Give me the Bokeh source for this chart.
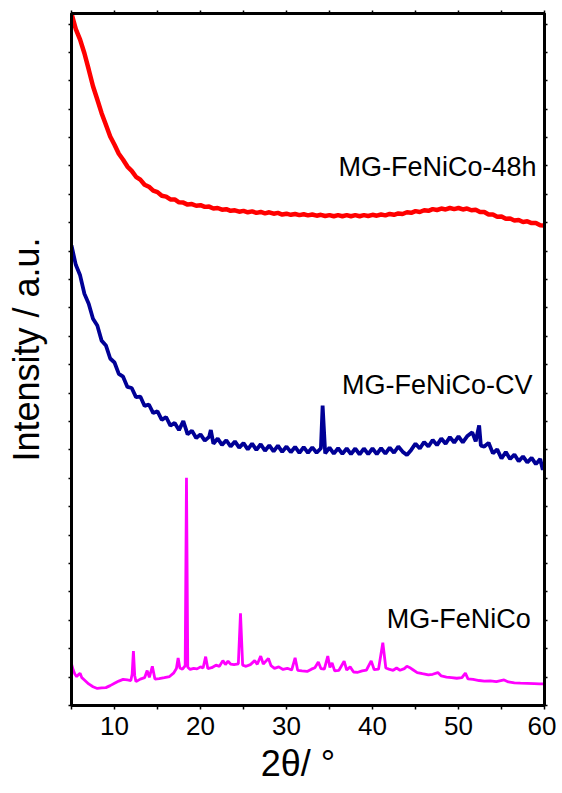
import math
from bokeh.plotting import figure
from bokeh.models import Range1d, LinearAxis, FixedTicker, Label, CustomJSTickFormatter
from bokeh.embed import file_html
from bokeh.resources import INLINE

# ---------------- data ----------------
two_theta_48h = [5.0 + 0.5 * i for i in range(111)]
intensity_48h = [
    24.37, 23.82, 23.45, 22.97, 22.40, 21.81, 21.34, 20.86, 20.45, 20.04,
    19.75, 19.43, 19.22, 18.98, 18.83, 18.62, 18.52, 18.34, 18.27, 18.13,
    18.08, 17.95, 17.92, 17.82, 17.82, 17.72, 17.71, 17.64, 17.66, 17.60,
    17.62, 17.56, 17.57, 17.50, 17.52, 17.46, 17.48, 17.42, 17.44, 17.39,
    17.42, 17.37, 17.40, 17.35, 17.38, 17.33, 17.37, 17.32, 17.35, 17.29,
    17.32, 17.28, 17.31, 17.27, 17.30, 17.26, 17.29, 17.25, 17.28, 17.24,
    17.27, 17.23, 17.27, 17.23, 17.27, 17.23, 17.27, 17.23, 17.27, 17.24,
    17.28, 17.25, 17.29, 17.26, 17.31, 17.28, 17.33, 17.31, 17.37, 17.35,
    17.41, 17.38, 17.44, 17.42, 17.48, 17.45, 17.50, 17.47, 17.52, 17.48,
    17.52, 17.47, 17.50, 17.44, 17.46, 17.38, 17.38, 17.29, 17.29, 17.21,
    17.22, 17.14, 17.15, 17.08, 17.10, 17.03, 17.05, 16.99, 16.99, 16.91,
    16.90,
]

two_theta_cv = [
    5.0, 5.5, 6.0, 6.5, 7.0, 7.5, 8.0, 8.5, 9.0, 9.5,
    10.0, 10.5, 11.0, 11.5, 12.0, 12.5, 13.0, 13.5, 14.0, 14.5,
    15.0, 15.5, 16.0, 16.5, 17.0, 17.5, 18.0, 18.5, 19.0, 19.5,
    20.0, 20.5, 21.0, 21.2, 21.5, 22.0, 22.5, 23.0, 23.5, 24.0,
    24.5, 25.0, 25.5, 26.0, 26.5, 27.0, 27.5, 28.0, 28.5, 29.0,
    29.5, 30.0, 30.5, 31.0, 31.5, 32.0, 32.5, 33.0, 33.5, 34.0,
    34.2, 34.5, 35.0, 35.5, 36.0, 36.5, 37.0, 37.5, 38.0, 38.5,
    39.0, 39.5, 40.0, 40.5, 41.0, 41.5, 42.0, 42.5, 43.0, 43.5,
    44.0, 44.5, 45.0, 45.5, 46.0, 46.5, 47.0, 47.5, 48.0, 48.5,
    49.0, 49.5, 50.0, 50.5, 51.0, 51.6, 52.0, 52.4, 52.6, 53.0,
    53.5, 54.0, 54.5, 55.0, 55.5, 56.0, 56.5, 57.0, 57.5, 58.0,
    58.5, 59.0, 59.5, 59.8, 60.0,
]
intensity_cv = [
    16.20, 15.52, 15.15, 14.50, 14.15, 13.62, 13.38, 12.85, 12.68, 12.22,
    12.08, 11.68, 11.58, 11.22, 11.18, 10.86, 10.88, 10.55, 10.60, 10.30,
    10.36, 10.06, 10.16, 9.86, 9.95, 9.70, 10.02, 9.55, 9.68, 9.42,
    9.55, 9.33, 9.46, 9.70, 9.22, 9.40, 9.18, 9.34, 9.12, 9.30,
    9.08, 9.24, 9.02, 9.22, 9.00, 9.20, 8.97, 9.16, 8.95, 9.15,
    8.93, 9.12, 8.92, 9.11, 8.90, 9.10, 8.90, 9.09, 8.90, 9.06,
    10.56, 8.88, 9.08, 8.87, 9.06, 8.86, 9.05, 8.85, 9.05, 8.84,
    9.05, 8.85, 9.05, 8.85, 9.06, 8.87, 9.08, 8.90, 9.12, 8.94,
    8.82, 9.00, 9.22, 9.05, 9.28, 9.12, 9.35, 9.17, 9.40, 9.22,
    9.45, 9.26, 9.48, 9.27, 9.48, 9.62, 9.30, 9.86, 9.15, 9.12,
    9.25, 8.88, 9.02, 8.70, 8.93, 8.68, 8.84, 8.60, 8.77, 8.56,
    8.72, 8.50, 8.68, 8.30, 8.57,
]

two_theta_pristine = [
    5.0, 5.2, 5.4, 5.6, 5.8, 6.0, 6.2, 6.5, 7.0, 7.5,
    8.0, 8.5, 9.0, 9.5, 10.0, 10.5, 11.0, 11.5, 11.9, 12.05,
    12.2, 12.35, 12.5, 13.0, 13.5, 13.8, 14.05, 14.4, 14.7, 15.2,
    15.8, 16.4, 16.9, 17.2, 17.4, 17.6, 17.9, 18.22, 18.37, 18.52,
    18.8, 19.2, 19.6, 20.0, 20.3, 20.6, 20.85, 21.3, 21.8, 22.2,
    22.6, 22.9, 23.2, 23.5, 23.9, 24.4, 24.65, 24.9, 25.3, 25.8,
    26.3, 26.6, 27.0, 27.3, 27.9, 28.2, 28.6, 29.1, 29.6, 30.1,
    30.6, 31.0, 31.3, 31.8, 32.4, 32.9, 33.3, 33.7, 34.0, 34.4,
    34.8, 35.05, 35.3, 35.6, 36.1, 36.7, 37.0, 37.4, 37.8, 38.3,
    38.8, 39.3, 39.85, 40.2, 40.7, 41.2, 41.55, 41.9, 42.4, 42.8,
    43.2, 43.7, 44.0, 44.3, 44.7, 45.2, 45.8, 46.5, 47.0, 47.6,
    48.0, 48.6, 49.2, 49.8, 50.4, 50.8, 51.1, 51.7, 52.4, 53.0,
    53.7, 54.4, 55.3, 55.8, 56.5, 57.2, 58.0, 58.8, 59.4, 60.0,
]
intensity_pristine = [
    1.47, 1.25, 1.10, 1.02, 1.08, 1.14, 0.98, 0.90, 0.76, 0.66,
    0.60, 0.62, 0.63, 0.70, 0.78, 0.86, 0.92, 0.90, 0.88, 1.10,
    1.92, 1.05, 0.84, 0.93, 0.98, 1.23, 0.99, 1.38, 0.93, 0.95,
    0.98, 1.02, 1.15, 1.30, 1.67, 1.32, 1.28, 1.40, 8.02, 1.35,
    1.27, 1.31, 1.29, 1.36, 1.32, 1.72, 1.30, 1.33, 1.42, 1.38,
    1.58, 1.44, 1.56, 1.46, 1.44, 1.47, 3.25, 1.42, 1.38, 1.44,
    1.58, 1.45, 1.74, 1.46, 1.66, 1.40, 1.31, 1.36, 1.27, 1.31,
    1.25, 1.68, 1.24, 1.22, 1.20, 1.28, 1.33, 1.53, 1.30, 1.28,
    1.74, 1.34, 1.50, 1.22, 1.24, 1.56, 1.25, 1.36, 1.18, 1.17,
    1.22, 1.25, 1.57, 1.26, 1.28, 2.21, 1.32, 1.28, 1.24, 1.32,
    1.24, 1.30, 1.38, 1.34, 1.26, 1.16, 1.12, 1.08, 1.10, 1.16,
    1.04, 1.00, 0.98, 0.96, 0.98, 1.14, 0.94, 0.92, 0.88, 0.86,
    0.87, 0.84, 0.90, 0.83, 0.80, 0.79, 0.78, 0.77, 0.76, 0.76,
]

series_names = ["MG-FeNiCo-48h", "MG-FeNiCo-CV", "MG-FeNiCo"]
x_ticks = [10, 20, 30, 40, 50, 60]
x_minor_ticks = [5, 15, 25, 35, 45, 55]
x_top_ticks = [5, 10, 15, 20, 25, 30, 35, 40, 45, 50, 55, 60]
y_ticks = list(range(0, 25))

FONT = "Liberation Sans"

p = figure(frame_width=473, frame_height=692,
           x_range=Range1d(5, 60), y_range=Range1d(0, 24.37),
           output_backend="svg", toolbar_location=None,
           min_border_left=71, min_border_right=12,
           min_border_top=13, min_border_bottom=88,
           x_axis_location=None, y_axis_location=None)
p.grid.visible = False
p.outline_line_color = "black"
p.outline_line_width = 3
p.background_fill_color = "white"
p.border_fill_color = "white"

blank = CustomJSTickFormatter(code="return '';")

def style_axis(ax, ticks, minor=None, out=3, labels=False):
    ax.ticker = FixedTicker(ticks=ticks, minor_ticks=minor or [])
    ax.axis_line_width = 3
    ax.axis_line_color = "black"
    ax.major_tick_in = 0
    ax.major_tick_out = out
    ax.minor_tick_in = 0
    ax.minor_tick_out = out
    ax.major_tick_line_width = 1.5
    ax.minor_tick_line_width = 1.5
    ax.axis_label_text_font = FONT
    ax.axis_label_text_font_style = "normal"
    ax.axis_label_text_font_size = "36px"
    ax.axis_label_text_color = "black"
    if labels:
        ax.major_label_text_font = FONT
        ax.major_label_text_font_size = "26px"
        ax.major_label_text_color = "black"
        ax.major_label_standoff = 7
    else:
        ax.formatter = blank
        ax.major_label_standoff = 0

bottom = LinearAxis()
style_axis(bottom, x_ticks, x_minor_ticks, out=4, labels=True)
bottom.axis_label = "2θ/ °\u00a0\u00a0"
bottom.axis_label_standoff = 5
p.add_layout(bottom, "below")

top = LinearAxis()
style_axis(top, x_top_ticks, out=3)
p.add_layout(top, "above")

left = LinearAxis()
style_axis(left, y_ticks, out=3)
left.axis_label = "\u00a0\u00a0Intensity / a.u."
left.axis_label_standoff = 22
p.add_layout(left, "left")

right = LinearAxis()
style_axis(right, y_ticks, out=3)
p.add_layout(right, "right")

p.line(two_theta_48h, intensity_48h, line_color="#FF0000", line_width=4.5)
p.line(two_theta_cv, intensity_cv, line_color="#000096", line_width=3.8)
p.line(two_theta_pristine, intensity_pristine, line_color="#FF00FF", line_width=2.8)

for name, x, y in zip(series_names, [59.07, 58.6, 58.4], [18.96, 11.27, 3.06]):
    p.add_layout(Label(x=x, y=y, text=name, text_align="right",
                       text_baseline="alphabetic", text_font=FONT,
                       text_font_size="27px", text_color="black"))

open("out.html", "w").write(file_html(p, INLINE))
